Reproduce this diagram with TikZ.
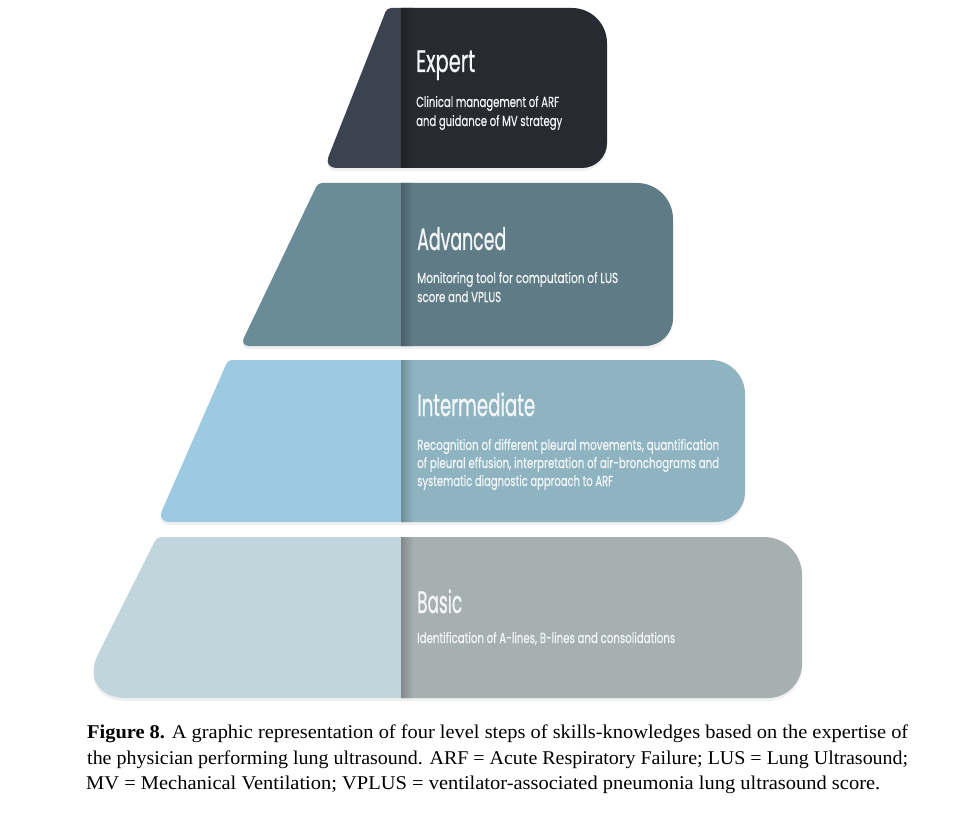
\documentclass[tikz,border=0pt]{standalone}
\usepackage{fontspec}
\usepackage{graphicx}
\usetikzlibrary{calc}
\newfontfamily\tierfont[FakeBold=0.9]{Poppins}
\newfontfamily\tiersubfont[FakeBold=0.5]{Poppins}
\newfontfamily\capfont{Liberation Serif}
\definecolor{exL}{HTML}{3B4350}
\definecolor{exR}{HTML}{272B31}
\definecolor{adL}{HTML}{6A8C99}
\definecolor{adR}{HTML}{5F7B86}
\definecolor{inL}{HTML}{9CCAE1}
\definecolor{inR}{HTML}{8FB4C1}
\definecolor{baL}{HTML}{C1D5DC}
\definecolor{baR}{HTML}{A6B0B1}
\definecolor{tiertext}{HTML}{F4F6F7}
\newlength\fitlen
\newcommand\fitto[2]{\settowidth\fitlen{#2}\pgfmathsetmacro\fitfac{#1/\fitlen}\scalebox{\fitfac}[1]{#2}}
\tikzset{
  tierpath/.style n args={8}{insert path={(#1+4,#3) -- (#5-#6,#3) arc[start angle=-90,end angle=0,radius=#6] -- (#5,#4-#7) arc[start angle=0,end angle=90,radius=#7] -- (#2+#8,#4) .. controls (#2+0.45*#8,#4) and ($(#2,#4)!0.45*#8pt!(#1,#3)$) .. ($(#2,#4)!#8pt!(#1,#3)$) -- ($(#1,#3)!4pt!(#2,#4)$) .. controls ($(#1,#3)!1.8pt!(#2,#4)$) and (#1+1.8,#3) .. (#1+4,#3) -- cycle}},
  tiertitle/.style={anchor=base west, inner sep=0pt, text=tiertext, font=\tierfont\fontsize{31}{31}\selectfont},
  tiersub/.style={anchor=base west, inner sep=0pt, text=tiertext, font=\tiersubfont\fontsize{14.5}{14.5}\selectfont},
  capline/.style={anchor=base west, inner sep=0pt, text=black, font=\capfont\fontsize{19.5}{19.5}\selectfont},
}
\newcommand\tier[4]{% #1 path args (as style value), #2 left colour, #3 right colour
  \fill[black, opacity=0.06, shift={(0,3)}, tierpath=#1];
  \begin{scope}
    \clip[tierpath=#1];
    \fill[#2] (0,0) rectangle (401,818);
    \fill[#3] (401,0) rectangle (960,818);
    \shade[left color=#3!78!black, right color=#3] (401,0) rectangle (413,818);
  \end{scope}
}
\begin{document}
\begin{tikzpicture}[x=1pt,y=-1pt]
\useasboundingbox (0,0) rectangle (960,818);
\fill[white] (0,0) rectangle (960,818);

% Expert
\tier{{387}{324}{8}{168}{607}{35}{25}{12}}{exL}{exR}{}
% Advanced
\tier{{318}{240}{183}{346}{673}{36}{28}{9}}{adL}{adR}{}
% Intermediate
\tier{{228}{157}{360}{522}{745}{34}{30}{12}}{inL}{inR}{}
% Basic
\tier{{157}{76}{537}{698}{802}{38}{34}{50}}{baL}{baR}{}

% Texts
\node[tiertitle] (ex) at (416,72) {\fitto{59}{Expert}};
\node[tiersub] (ex1) at (416,107) {\fitto{143}{Clinical management of ARF}};
\node[tiersub] (ex2) at (416,126) {\fitto{146}{and guidance of MV strategy}};

\node[tiertitle] (ad) at (417,250) {\fitto{89}{Advanced}};
\node[tiersub] (ad1) at (417,283) {\fitto{201}{Monitoring tool for computation of LUS}};
\node[tiersub] (ad2) at (417,302) {\fitto{84}{score and VPLUS}};

\node[tiertitle] (in) at (417,416) {\fitto{118}{Intermediate}};
\node[tiersub] (in1) at (417,450) {\fitto{302}{Recognition of different pleural movements, quantification}};
\node[tiersub] (in2) at (417,468) {\fitto{302}{of pleural effusion, interpretation of air-bronchograms and}};
\node[tiersub] (in3) at (417,486) {\fitto{196}{systematic diagnostic approach to ARF}};

\node[tiertitle] (ba) at (417,613) {\fitto{45}{Basic}};
\node[tiersub] (ba1) at (417,643) {\fitto{258}{Identification of A-lines, B-lines and consolidations}};

% Caption
\node[capline] (c1) at (87,738) {\fitto{821}{\textbf{Figure 8.} A graphic representation of four level steps of skills-knowledges based on the expertise of}};
\node[capline] (c2) at (87,764) {\fitto{821}{the physician performing lung ultrasound. ARF = Acute Respiratory Failure; LUS = Lung Ultrasound;}};
\node[capline] (c3) at (86,789) {\fitto{794}{MV = Mechanical Ventilation; VPLUS = ventilator-associated pneumonia lung ultrasound score.}};
\end{tikzpicture}
\end{document}
